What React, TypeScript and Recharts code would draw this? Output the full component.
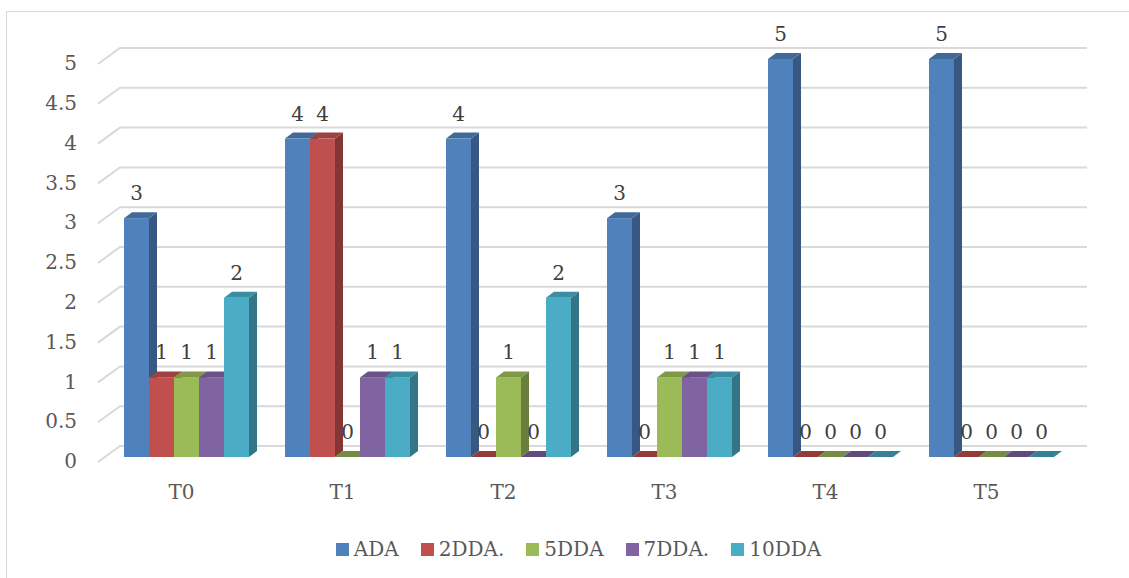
import { BarChart, Bar, XAxis, YAxis, CartesianGrid, Legend, LabelList } from "recharts";

const categories = ["T0", "T1", "T2", "T3", "T4", "T5"];
const ada = [3, 4, 4, 3, 5, 5];
const dda2 = [1, 4, 0, 0, 0, 0];
const dda5 = [1, 0, 1, 1, 0, 0];
const dda7 = [1, 1, 0, 1, 0, 0];
const dda10 = [2, 1, 2, 1, 0, 0];

const seriesKeys = ["ada", "dda2", "dda5", "dda7", "dda10"];
const seriesNames = ["ADA", "2DDA.", "5DDA", "7DDA.", "10DDA"];
const seriesColors = ["#4F81BD", "#C0504D", "#9BBB59", "#8064A2", "#4BACC6"];
const yTicks = [0, 0.5, 1, 1.5, 2, 2.5, 3, 3.5, 4, 4.5, 5];

const data = categories.map((name, i) => ({
  name,
  ada: ada[i],
  dda2: dda2[i],
  dda5: dda5[i],
  dda7: dda7[i],
  dda10: dda10[i],
}));

const FONT = "'DejaVu Serif', serif";
// bar depth in px (x to the right, y upwards)
const DX = 8;
const DY = 6;

function shade(hex: string, k: number) {
  const n = parseInt(hex.slice(1), 16);
  const r = Math.round(((n >> 16) & 255) * k);
  const g = Math.round(((n >> 8) & 255) * k);
  const b = Math.round((n & 255) * k);
  return `rgb(${r},${g},${b})`;
}

// column drawn as a box: front face, top face and right side
const Box3D = (props: any) => {
  const { x, y, width, height, fill } = props;
  if (x == null || y == null) return null;
  const w = width;
  const h = Math.max(0, height);
  const top = `${x},${y} ${x + DX},${y - DY} ${x + w + DX},${y - DY} ${x + w},${y}`;
  const side = `${x + w},${y} ${x + w + DX},${y - DY} ${x + w + DX},${y + h - DY} ${x + w},${y + h}`;
  return (
    <g>
      {h > 0 && <rect x={x} y={y} width={w} height={h} fill={fill} />}
      {h > 0 && <polygon points={side} fill={shade(fill, 0.68)} />}
      <polygon points={top} fill={shade(fill, h > 0 ? 0.82 : 0.75)} />
    </g>
  );
};

// gridline on the back wall, with the short slant towards the front edge
const WallLine = (p: any) => {
  const { x1, x2, y1, index } = p;
  const pts = `${x1 - 8},${y1 + 5} ${x1 + 14},${y1 - 11} ${x2 + 15},${y1 - 11}`;
  return <polyline key={`wall-${index}`} points={pts} fill="none" stroke="#d9d9d9" strokeWidth={2} />;
};

const LegendRow = () => (
  <div style={{ display: "flex", justifyContent: "center", alignItems: "center", gap: 22, fontFamily: FONT, fontSize: 20, color: "#595959" }}>
    {seriesNames.map((n, i) => (
      <div key={n} style={{ display: "flex", alignItems: "center", gap: 5 }}>
        <span style={{ width: 13, height: 13, background: seriesColors[i], display: "inline-block" }} />
        <span>{n}</span>
      </div>
    ))}
  </div>
);

export default function App() {
  return (
    <div style={{ position: "absolute", left: 0, top: 0, width: 1129, height: 578, background: "#fff", overflow: "hidden" }}>
      <div style={{ position: "absolute", left: 6, top: 11, width: 1123, height: 567, borderTop: "1px solid #d9d9d9", borderLeft: "1px solid #d9d9d9" }} />
      <BarChart
        width={1129}
        height={578}
        data={data}
        margin={{ top: 59, right: 57, bottom: 91, left: 0 }}
        barCategoryGap={18}
        barGap={0}
      >
        <CartesianGrid vertical={false} horizontal={WallLine} />
        <XAxis
          dataKey="name"
          height={30}
          axisLine={false}
          tickLine={false}
          tickSize={0}
          tickMargin={28}
          interval={0}
          tick={{ fill: "#595959", fontSize: 20, fontFamily: FONT, dx: -5 }}
        />
        <YAxis
          domain={[0, 5]}
          ticks={yTicks}
          width={106}
          axisLine={false}
          tickLine={false}
          tickSize={0}
          tickMargin={29}
          tick={{ fill: "#595959", fontSize: 20, fontFamily: FONT, dy: 4 }}
        />
        <Legend layout="horizontal" verticalAlign="middle" wrapperStyle={{ top: 537, left: 14, width: 1129 }} content={LegendRow} />
        {seriesKeys.map((k, i) => (
          <Bar key={k} dataKey={k} name={seriesNames[i]} fill={seriesColors[i]} shape={Box3D} isAnimationActive={false}>
            <LabelList dataKey={k} position="top" offset={18} fill="#404040" fontSize={20} fontFamily={FONT} />
          </Bar>
        ))}
      </BarChart>
    </div>
  );
}
